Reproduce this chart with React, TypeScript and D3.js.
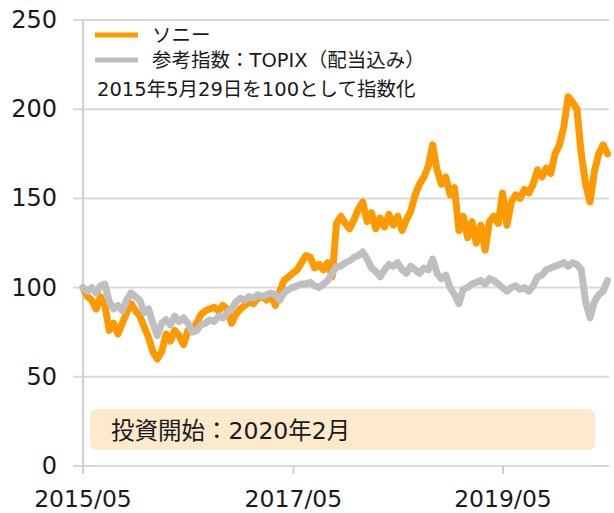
import React from "react";
import * as d3 from "d3";

const startDate = "2015-05-29";
const endDate = "2020-05-29";
const yTicks = [0, 50, 100, 150, 200, 250];
const xTickDates = ["2015-05-29", "2017-05-31", "2019-05-31"];
const xTickLabels = ["2015/05", "2017/05", "2019/05"];

// semi-monthly readings, from 2015/05/29 to 2020/05
const sony = [
  100, 95, 93, 88, 95, 90, 76, 80, 74, 80, 86, 91, 87, 84, 78, 72, 64, 60, 64, 74, 70, 76, 73, 68, 76,
  77, 80, 85, 87, 88, 89, 87, 90, 88, 80, 85, 88, 90, 92, 91, 94, 95, 93, 96, 90, 98, 104, 106, 108,
  110, 114, 118, 117, 111, 113, 110, 114, 106, 136, 140, 136, 133, 138, 144, 148, 137, 142, 133, 139,
  134, 141, 135, 140, 132, 138, 143, 152, 158, 162, 168, 180, 166, 158, 162, 152, 156, 132, 140, 128,
  137, 125, 135, 121, 137, 140, 136, 153, 135, 148, 152, 150, 155, 153, 158, 166, 162, 167, 164, 175,
  180, 190, 207, 204, 200, 175, 158, 148, 165, 175, 180, 175,
];
const topix = [
  100, 98, 100, 97, 101, 102, 92, 88, 90, 87, 93, 97, 95, 93, 86, 88, 80, 73, 80, 82, 79, 84, 81, 83, 80,
  75, 76, 79, 80, 82, 81, 84, 83, 86, 88, 92, 94, 93, 95, 94, 96, 95, 96, 97, 96, 93, 97, 99, 100, 101,
  102, 102, 103, 101, 100, 102, 104, 108, 112, 112, 114, 115, 117, 118, 120, 116, 111, 109, 106, 110,
  113, 112, 114, 110, 108, 112, 110, 108, 111, 110, 116, 108, 105, 107, 100, 96, 91, 99, 100, 102, 103,
  104, 102, 105, 104, 102, 100, 98, 100, 101, 99, 100, 98, 101, 106, 107, 110, 111, 112, 113, 114, 112,
  114, 113, 110, 92, 83, 92, 96, 98, 104,
];

const legendLabels = ["ソニー", "参考指数：TOPIX（配当込み）"];
const noteText = "2015年5月29日を100として指数化";
const boxText = "投資開始：2020年2月";

const ORANGE = "#FF9900";
const GRAY = "#BFBFBF";
const FONT = "'DejaVu Sans', 'Noto Sans CJK JP', sans-serif";

export default function App() {
  const W = 614;
  const H = 513;
  const left = 83;
  const right = 609;
  const start = new Date(startDate + "T00:00:00");
  const end = new Date(endDate + "T00:00:00");
  const x = d3.scaleTime().domain([start, end]).range([left, 607.5]);
  const y = d3.scaleLinear().domain([0, 250]).range([466, 20]);

  const n = sony.length;
  const span = (end.getTime() - start.getTime()) / (n - 1);
  const dates = sony.map((_, i) => new Date(start.getTime() + span * i));

  const line = d3
    .line<number>()
    .x((_, i) => x(dates[i]))
    .y((v) => y(v));

  return (
    <svg width={W} height={H} style={{ position: "absolute", left: 0, top: 0 }}>
      <rect width={W} height={H} fill="#fff" />
      {yTicks.map((t) => (
        <g key={t}>
          <line x1={73} x2={right} y1={y(t)} y2={y(t)} stroke="#D9D9D9" strokeWidth={2} />
          <text
            x={57}
            y={y(t)}
            textAnchor="end"
            dominantBaseline="central"
            fontFamily={FONT}
            fontSize={24}
            fill="#1a1a1a"
          >
            {t}
          </text>
        </g>
      ))}
      <line x1={left} x2={left} y1={y(250)} y2={y(0) + 7} stroke="#D0D0D0" strokeWidth={2} />
      {xTickDates.map((d, i) => {
        const px = x(new Date(d + "T00:00:00"));
        return (
          <g key={d}>
            <line x1={px} x2={px} y1={y(0)} y2={y(0) + 8} stroke="#D0D0D0" strokeWidth={2} />
            <text
              x={px}
              y={499}
              textAnchor="middle"
              dominantBaseline="central"
              fontFamily={FONT}
              fontSize={23.5}
              fill="#1a1a1a"
            >
              {xTickLabels[i]}
            </text>
          </g>
        );
      })}

      <rect x={90} y={409} width={505} height={41} rx={7} fill="#FDEACD" />
      <text x={111} y={431} dominantBaseline="central" fontFamily={FONT} fontSize={23.5} fill="#1a1a1a">
        {boxText}
      </text>

      <path d={line(sony) || ""} fill="none" stroke={ORANGE} strokeWidth={7} strokeLinejoin="round" strokeLinecap="round" />
      <path d={line(topix) || ""} fill="none" stroke={GRAY} strokeWidth={7} strokeLinejoin="round" strokeLinecap="round" />

      <line x1={95} x2={138} y1={35} y2={35} stroke={ORANGE} strokeWidth={5} />
      <line x1={95} x2={138} y1={60} y2={60} stroke={GRAY} strokeWidth={5} />
      <text x={152} y={35} dominantBaseline="central" fontFamily={FONT} fontSize={19.5} fill="#1a1a1a">
        {legendLabels[0]}
      </text>
      <text x={152} y={60} dominantBaseline="central" fontFamily={FONT} fontSize={19.5} fill="#1a1a1a">
        {legendLabels[1]}
      </text>
      <text x={97} y={89} dominantBaseline="central" fontFamily={FONT} fontSize={19.5} fill="#1a1a1a">
        {noteText}
      </text>
    </svg>
  );
}
